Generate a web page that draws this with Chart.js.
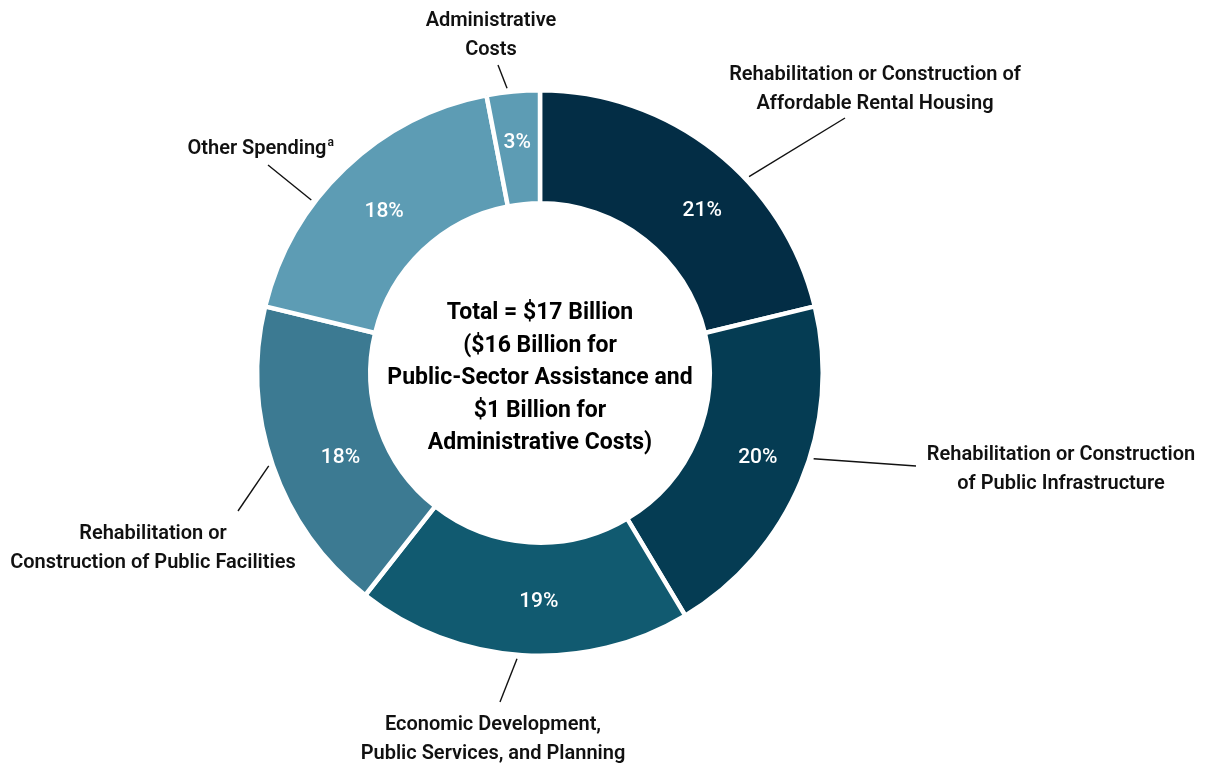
<!DOCTYPE html>
<html>
<head>
<meta charset="utf-8">
<script src="https://cdn.jsdelivr.net/npm/chart.js@4/dist/chart.umd.min.js"></script>
<style>
  html, body { margin: 0; padding: 0; background: #ffffff; }
  #wrap { width: 1206px; height: 766px; position: relative; }
</style>
</head>
<body>
<div id="wrap"><canvas id="c" width="1206" height="766"></canvas></div>
<script>
// Spending categories (clockwise from 12 o'clock) and their shares, in percent
const categories = [
  ['Rehabilitation or Construction of', 'Affordable Rental Housing'],
  ['Rehabilitation or Construction', 'of Public Infrastructure'],
  ['Economic Development,', 'Public Services, and Planning'],
  ['Rehabilitation or', 'Construction of Public Facilities'],
  ['Other Spending'],
  ['Administrative', 'Costs']
];
const shares = [21, 20, 19, 18, 18, 3];
const sliceColors = ['#032d45', '#053c53', '#115a70', '#3c7a92', '#5d9cb4', '#5d9cb4'];
const centerLines = [
  'Total = $17 Billion',
  '($16 Billion for',
  'Public-Sector Assistance and',
  '$1 Billion for',
  'Administrative Costs)'
];

// Callout placement: angle where the leader leaves the ring (deg, clockwise from top),
// leader end point, text centre x and first baseline y; pa/pr place the percentage
const callouts = [
  { ang: 46.8,  end: [845, 118], tx: 875, ty: 80,  pa: 44.6,  pr: 231 },
  { ang: 107.4, end: [916, 466], tx: 1061, ty: 460, pa: 110.8, pr: 233 },
  { ang: 184.6, end: [500, 702], tx: 493, ty: 730, pa: 180.3, pr: 227 },
  { ang: 251.1, end: [238, 511], tx: 153, ty: 539, pa: 247.5, pr: 216 },
  { ang: 307.1, end: [268, 165], tx: 257, ty: 154, pa: 316.4, pr: 226, sup: 'a' },
  { ang: 353.4, end: [498, 65],  tx: 491, ty: 26,  pa: 354.4, pr: 234 }
];

const FONT = 'Roboto, "Liberation Sans", sans-serif';

function polar(arc, deg, r) {
  const a = (deg - 90) * Math.PI / 180;
  return [arc.x + r * Math.cos(a), arc.y + r * Math.sin(a)];
}

const labelPlugin = {
  id: 'ringLabels',
  afterDatasetsDraw(chart) {
    const ctx = chart.ctx;
    const meta = chart.getDatasetMeta(0);
    ctx.save();
    ctx.textBaseline = 'alphabetic';
    ctx.textAlign = 'center';

    // percentage inside each slice
    ctx.fillStyle = '#ffffff';
    ctx.font = '500 21px ' + FONT;
    meta.data.forEach((arc, i) => {
      const c = callouts[i];
      const p = polar(arc, c.pa, c.pr);
      ctx.fillText(shares[i] + '%', p[0], p[1] + 7.5);
    });

    // leader lines and category names
    ctx.strokeStyle = '#111111';
    ctx.lineWidth = 1.4;
    ctx.fillStyle = '#111111';
    meta.data.forEach((arc, i) => {
      const c = callouts[i];
      const s = polar(arc, c.ang, arc.outerRadius + 4);
      ctx.beginPath();
      ctx.moveTo(s[0], s[1]);
      ctx.lineTo(c.end[0], c.end[1]);
      ctx.stroke();

      ctx.font = '600 20px ' + FONT;
      ctx.textAlign = 'center';
      const lines = categories[i];
      lines.forEach((ln, k) => {
        ctx.fillText(ln, c.tx, c.ty + k * 28.5);
      });
      if (c.sup) {
        const w = ctx.measureText(lines[0]).width;
        ctx.font = '600 12px ' + FONT;
        ctx.textAlign = 'left';
        ctx.fillText(c.sup, c.tx + w / 2 + 1, c.ty - 8);
      }
    });

    // total in the hole
    ctx.font = '700 23px ' + FONT;
    ctx.textAlign = 'center';
    ctx.fillStyle = '#000000';
    const cx = meta.data[0].x, cy = meta.data[0].y;
    centerLines.forEach((ln, k) => {
      ctx.fillText(ln, cx, cy - 54 + k * 32.6);
    });
    ctx.restore();
  }
};

new Chart(document.getElementById('c'), {
  type: 'doughnut',
  data: {
    labels: categories.map(l => l.join(' ')),
    datasets: [{
      data: shares,
      backgroundColor: sliceColors,
      borderColor: '#ffffff',
      borderWidth: 4.5,
      hoverOffset: 0
    }]
  },
  options: {
    responsive: false,
    animation: false,
    cutout: '60%',
    layout: { padding: { left: 255, right: 381, top: 88, bottom: 108 } },
    plugins: { legend: { display: false }, tooltip: { enabled: false } },
    events: []
  },
  plugins: [labelPlugin]
});
</script>
</body>
</html>
